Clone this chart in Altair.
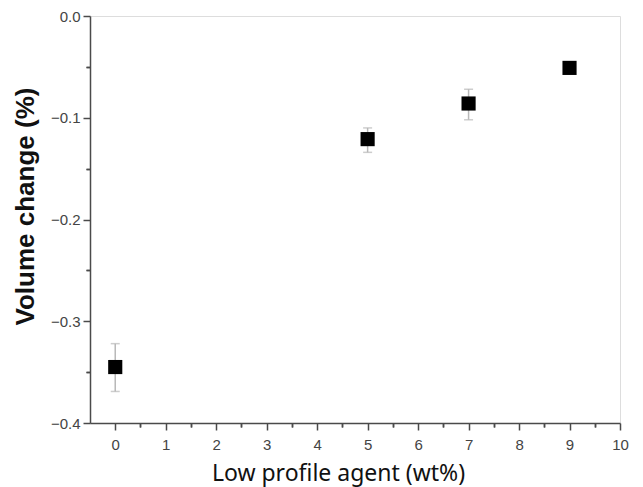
import altair as alt
import pandas as pd

# Data
x_vals = [0, 5, 7, 9]
y_vals = [-0.345, -0.121, -0.086, -0.051]
y_upper = [-0.322, -0.110, -0.072, -0.047]
y_lower = [-0.369, -0.134, -0.102, -0.055]

x_major = [0, 1, 2, 3, 4, 5, 6, 7, 8, 9, 10]
x_minor = [0.5, 1.5, 2.5, 3.5, 4.5, 5.5, 6.5, 7.5, 8.5, 9.5]
y_major = [0.0, -0.1, -0.2, -0.3, -0.4]
y_minor = [-0.05, -0.15, -0.25, -0.35]

df = pd.DataFrame({"x": x_vals, "y": y_vals, "hi": y_upper, "lo": y_lower})

AX = "#4a4a4a"
ERR = "#b8b8b8"

xscale = alt.Scale(domain=[-0.5, 10], nice=False, zero=False)
yscale = alt.Scale(domain=[-0.4, 0.0], nice=False, zero=False)

base = alt.Chart(df)

minor_x_axis = alt.Axis(values=x_minor, labels=False, title=None, tickSize=4,
                        domain=False, grid=False, orient="bottom",
                        tickColor=AX, tickWidth=1.5)
minor_y_axis = alt.Axis(values=y_minor, labels=False, title=None, tickSize=4,
                        domain=False, grid=False, orient="left",
                        tickColor=AX, tickWidth=1.5)

err_rule = base.mark_rule(color=ERR, strokeWidth=1.5).encode(
    x=alt.X("x:Q", scale=xscale, axis=minor_x_axis),
    y=alt.Y("lo:Q", scale=yscale, axis=minor_y_axis),
    y2="hi:Q",
)

caps = base.transform_fold(["lo", "hi"], as_=["k", "v"]).mark_tick(
    orient="horizontal", size=9, thickness=1.5, color=ERR
).encode(
    x=alt.X("x:Q", scale=xscale, axis=minor_x_axis),
    y=alt.Y("v:Q", scale=yscale, axis=minor_y_axis),
)

major_x_axis = alt.Axis(
    values=x_major, format="d", title="Low profile agent (wt%)", grid=False,
    orient="bottom", tickSize=7, tickWidth=1.5, tickColor=AX,
    domainColor=AX, domainWidth=1.5,
    labelFont="Liberation Sans", labelFontSize=15, labelColor="#444444",
    labelPadding=7, labelFlush=False,
    titleFont="Noto Sans", titleFontSize=23, titleFontWeight="normal",
    titleColor="#111111", titlePadding=10, titleX=248,
)
major_y_axis = alt.Axis(
    values=y_major, format=".1f", title="Volume change (%)", grid=False,
    orient="left", tickSize=7, tickWidth=1.5, tickColor=AX,
    domainColor=AX, domainWidth=1.5,
    labelFont="Liberation Sans", labelFontSize=15, labelColor="#444444",
    labelPadding=3, labelFlush=False,
    titleFont="Liberation Sans", titleFontSize=26, titleFontWeight="bold",
    titleColor="#111111", titlePadding=12, titleY=190,
)

points = base.mark_square(size=200, color="black", opacity=1).encode(
    x=alt.X("x:Q", scale=xscale, axis=major_x_axis),
    y=alt.Y("y:Q", scale=yscale, axis=major_y_axis),
)

chart = alt.layer(err_rule, caps, points).resolve_axis(
    x="independent", y="independent"
).properties(
    width=530, height=407,
    autosize=alt.AutoSizeParams(type="none"),
    padding={"left": 82, "top": 8, "right": 15, "bottom": 64},
).configure_view(
    stroke=AX, strokeWidth=1.5
).configure(background="white")

chart.save("out.html", embed_options={"renderer": "svg", "actions": False})
